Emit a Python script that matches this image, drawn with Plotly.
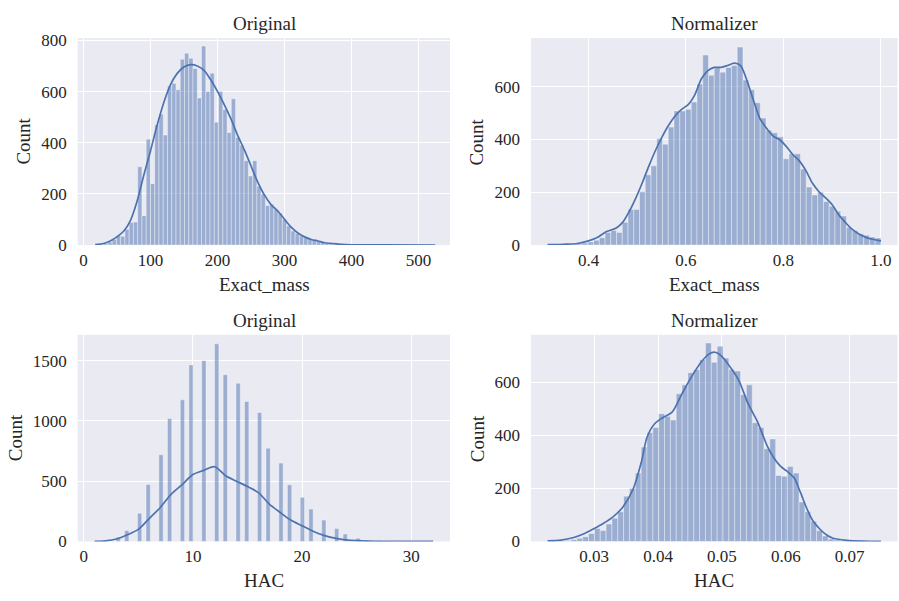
import numpy as np
import plotly.graph_objects as go

# ---------------- data ----------------
# Top-left: Exact_mass (Original) histogram
em_orig_lo, em_orig_hi, em_orig_nbins = 17.5, 525.5, 80
em_orig_counts = [2, 4, 6, 12, 22, 38, 34, 62, 88, 90,
                  306, 115, 414, 240, 470, 512, 430, 622, 632, 607,
                  726, 750, 730, 690, 575, 778, 600, 672, 480, 600,
                  530, 440, 572, 420, 390, 330, 270, 330, 230, 200,
                  155, 160, 140, 125, 100, 75, 55, 45, 35, 30,
                  25, 20, 14, 10, 7, 5, 4, 3, 2, 2,
                  1, 1, 0, 1, 0, 0, 1, 0, 0, 0,
                  0, 1, 0, 0, 0, 0, 0, 0, 0, 1]
em_orig_kde_x = [17.5, 30, 40, 50, 60, 70, 80, 90, 100, 110, 120, 130, 140, 150, 160,
                 170, 180, 190, 200, 210, 220, 230, 240, 250, 260, 270, 280, 290, 300,
                 310, 320, 330, 340, 350, 360, 380, 400, 450, 525]
em_orig_kde_y = [2, 6, 16, 32, 54, 95, 170, 272, 367, 468, 557, 627, 671, 696, 705,
                 700, 683, 646, 601, 550, 494, 430, 373, 310, 247, 196, 158, 133, 101,
                 70, 47, 32, 22, 16, 9, 4, 1, 0.5, 0.3]

# Top-right: Exact_mass (Normalizer)
em_norm_lo, em_norm_hi, em_norm_nbins = 0.316, 1.0, 58
em_norm_counts = [0, 1, 1, 2, 3, 5, 8, 12, 18, 28,
                  48, 55, 48, 86, 135, 135, 202, 266, 300, 404,
                  382, 447, 508, 508, 514, 542, 610, 720, 643, 673,
                  655, 673, 680, 750, 625, 588, 539, 481, 435, 425,
                  410, 327, 346, 346, 288, 220, 190, 200, 165, 147,
                  128, 110, 67, 55, 43, 37, 31, 27]
em_norm_kde_x = [0.316, 0.35, 0.377, 0.4, 0.42, 0.437, 0.457, 0.47, 0.484, 0.497, 0.511,
                 0.524, 0.538, 0.551, 0.564, 0.578, 0.591, 0.605, 0.618, 0.632, 0.645,
                 0.658, 0.672, 0.685, 0.699, 0.712, 0.726, 0.739, 0.752, 0.766, 0.779,
                 0.793, 0.806, 0.819, 0.833, 0.846, 0.86, 0.873, 0.887, 0.9, 0.913,
                 0.927, 0.94, 0.954, 0.967, 0.98, 1.0]
em_norm_kde_y = [2, 3, 6, 16, 31, 51, 65, 86, 129, 178, 239,
                 300, 361, 410, 453, 490, 514, 533, 569, 631, 661,
                 673, 673, 680, 689, 680, 618, 545, 478, 441, 413,
                 398, 373, 343, 318, 282, 233, 202, 178, 153, 116,
                 86, 61, 43, 31, 23, 16]

# Bottom-left: HAC (Original) - integer values, auto bins
hac_lo, hac_hi, hac_nbins = 1, 32, 79
hac_values = list(range(1, 33))
hac_counts = [3, 10, 35, 91, 234, 473, 720, 1021, 1175, 1465,
              1500, 1640, 1384, 1312, 1161, 1070, 774, 650, 470, 366,
              269, 177, 108, 62, 27, 10, 5, 3, 2, 1, 1, 1]
hac_kde_x = [1, 2, 3, 4, 5, 6, 7, 8, 9, 10, 11, 12, 13, 14, 15, 16, 17, 18, 19, 20,
             21, 22, 23, 24, 25, 26, 28, 30, 32]
hac_kde_y = [1, 5, 20, 55, 100, 190, 280, 390, 470, 555, 590, 620, 545, 500, 455, 405,
             310, 240, 175, 130, 85, 50, 27, 13, 6, 3, 1, 0.5, 0.3]

# Bottom-right: HAC (Normalizer)
hac_norm_lo, hac_norm_hi, hac_norm_nbins = 0.0227, 0.0749, 57
hac_norm_counts = [1, 1, 2, 4, 7, 12, 18, 30, 49, 41,
                   66, 88, 112, 171, 200, 258, 356, 411, 430, 482,
                   472, 458, 557, 591, 637, 649, 686, 749, 676, 737,
                   692, 649, 643, 554, 591, 448, 430, 350, 387, 249,
                   246, 283, 258, 149, 112, 76, 41, 21, 9, 5,
                   3, 2, 1, 1, 0, 0, 1]
hac_norm_kde_x = [0.0227, 0.0248, 0.0268, 0.0284, 0.03, 0.0314, 0.033, 0.0345, 0.0361,
                  0.0374, 0.0383, 0.0395, 0.0408, 0.0422, 0.0437, 0.0452, 0.0468, 0.0479,
                  0.0489, 0.0499, 0.051, 0.0526, 0.0541, 0.0556, 0.0571, 0.0582, 0.0592,
                  0.0602, 0.0613, 0.0623, 0.0633, 0.0643, 0.0654, 0.0664, 0.0674, 0.0695,
                  0.072, 0.0749]
hac_norm_kde_y = [2, 5, 15, 29, 49, 68, 94, 130, 198,
                  301, 395, 445, 468, 488, 555, 620, 678, 706,
                  714, 700, 668, 610, 520, 450, 360, 313, 283,
                  265, 240, 185, 124, 76, 45, 24, 12, 4,
                  1, 0]

# ---------------- style ----------------
W, H = 899, 601
BAR_FILL = "rgba(76,114,176,0.5)"
BAR_EDGE = "rgba(255,255,255,0.55)"
LINE = "#4C72B0"
TXT = "#262626"
FONT = "Liberation Serif, Times New Roman, serif"


def px(x):
    return x / W


def py(y):
    return 1 - y / H


def hist_bars(lo, hi, nb, counts):
    edges = np.linspace(lo, hi, nb + 1)
    centers = (edges[:-1] + edges[1:]) / 2
    return centers, edges[1] - edges[0], counts


fig = go.Figure()

panels = [
    ("", hist_bars(em_orig_lo, em_orig_hi, em_orig_nbins, em_orig_counts), em_orig_kde_x, em_orig_kde_y),
    ("2", hist_bars(em_norm_lo, em_norm_hi, em_norm_nbins, em_norm_counts), em_norm_kde_x, em_norm_kde_y),
]

# bottom-left: put each integer value into its auto bin
hac_edges = np.linspace(hac_lo, hac_hi, hac_nbins + 1)
hac_idx = np.clip(np.searchsorted(hac_edges, hac_values, side="right") - 1, 0, hac_nbins - 1)
hac_centers = (hac_edges[hac_idx] + hac_edges[hac_idx + 1]) / 2
hac_w = hac_edges[1] - hac_edges[0]
panels.append(("3", (hac_centers, hac_w, hac_counts), hac_kde_x, hac_kde_y))
panels.append(("4", hist_bars(hac_norm_lo, hac_norm_hi, hac_norm_nbins, hac_norm_counts),
               hac_norm_kde_x, hac_norm_kde_y))

for suf, (bx, bw, by), kx, ky in panels:
    fig.add_trace(go.Bar(x=bx, y=by, width=bw, xaxis="x" + suf, yaxis="y" + suf,
                         marker=dict(color=BAR_FILL, line=dict(color=BAR_EDGE, width=0.7)),
                         showlegend=False, hoverinfo="skip"))
    fig.add_trace(go.Scatter(x=kx, y=ky, mode="lines", xaxis="x" + suf, yaxis="y" + suf,
                             line=dict(color=LINE, width=1.7, shape="spline", smoothing=0.8),
                             showlegend=False, hoverinfo="skip"))

xL = [px(77.7), px(450)]
xR = [px(531), px(897.5)]
yT = [py(245), py(32)]
yB = [py(550), py(337.3)]

common_x = dict(showgrid=True, gridcolor="white", gridwidth=1.2, zeroline=False,
                showline=False, ticks="", tickfont=dict(family=FONT, size=17, color=TXT),
                ticklabelstandoff=3, ticklabeloverflow="allow")
common_y = dict(showgrid=True, gridcolor="white", gridwidth=1.2, zeroline=False,
                showline=False, ticks="", tickfont=dict(family=FONT, size=17, color=TXT),
                ticklabelstandoff=10, ticklabeloverflow="allow")

fig.update_layout(
    width=W, height=H,
    margin=dict(l=0, r=0, t=0, b=0),
    paper_bgcolor="white", plot_bgcolor="#EAEAF2",
    barmode="overlay",
    xaxis=dict(domain=xL, anchor="y", range=[-8.5, 547],
               tickvals=[0, 100, 200, 300, 400, 500], **common_x),
    yaxis=dict(domain=yT, anchor="x", range=[0, 809],
               tickvals=[0, 200, 400, 600, 800], **common_y),
    xaxis2=dict(domain=xR, anchor="y2", range=[0.282, 1.034],
                tickvals=[0.4, 0.6, 0.8, 1.0], ticktext=["0.4", "0.6", "0.8", "1.0"], **common_x),
    yaxis2=dict(domain=yT, anchor="x2", range=[0, 784],
                tickvals=[0, 200, 400, 600], **common_y),
    xaxis3=dict(domain=xL, anchor="y3", range=[-0.55, 33.55],
                tickvals=[0, 10, 20, 30], **common_x),
    yaxis3=dict(domain=yB, anchor="x3", range=[0, 1715],
                tickvals=[0, 500, 1000, 1500], **common_y),
    xaxis4=dict(domain=xR, anchor="y4", range=[0.0201, 0.0775],
                tickvals=[0.03, 0.04, 0.05, 0.06, 0.07],
                ticktext=["0.03", "0.04", "0.05", "0.06", "0.07"], **common_x),
    yaxis4=dict(domain=yB, anchor="x4", range=[0, 780],
                tickvals=[0, 200, 400, 600], **common_y),
)

ann = []


def add_text(text, x, y, angle=0):
    ann.append(dict(text=text, x=px(x), y=py(y), xref="paper", yref="paper",
                    xanchor="center", yanchor="middle", showarrow=False, textangle=angle,
                    font=dict(family=FONT, size=19, color=TXT)))


add_text("Original", 264, 17)
add_text("Normalizer", 714, 17)
add_text("Original", 264, 323)
add_text("Normalizer", 714, 323)
add_text("Exact_mass", 264, 286)
add_text("Exact_mass", 714, 286)
add_text("HAC", 264, 590)
add_text("HAC", 714, 590)
add_text("Count", 24, 138.5, -90)
add_text("Count", 477, 138.5, -90)
add_text("Count", 15, 443.7, -90)
add_text("Count", 477, 443.7, -90)
fig.update_layout(annotations=ann)

fig.write_html("out.html", config={"displayModeBar": False},
               post_script="document.body.style.margin='0px';document.body.style.overflow='hidden';")
